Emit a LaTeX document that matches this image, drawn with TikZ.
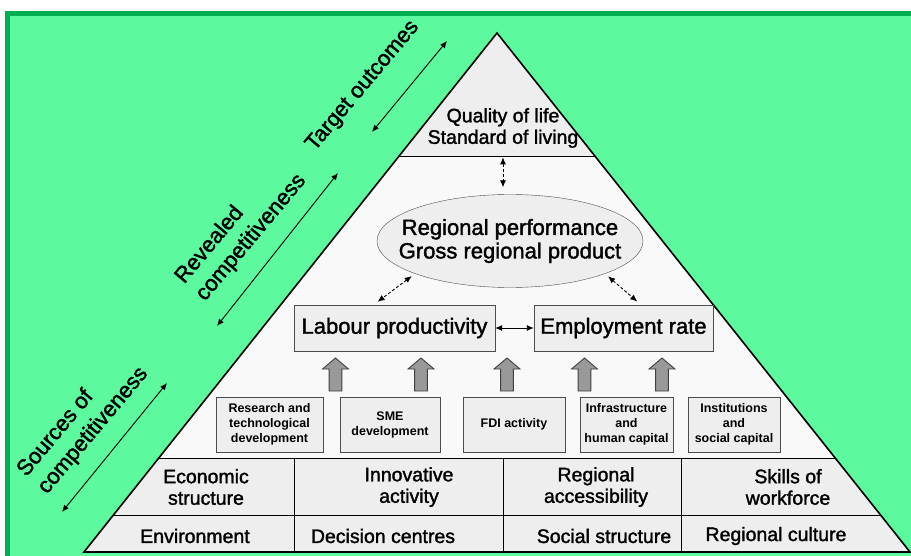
\documentclass[tikz,border=0pt]{standalone}
\usepackage{fontspec}
\setmainfont{Liberation Sans}
\newfontfamily\medfont{Liberation Sans}[FakeBold=1.6]
\usetikzlibrary{arrows.meta,shapes.geometric}
\definecolor{bggreen}{RGB}{92,249,158}
\definecolor{framegreen}{RGB}{0,176,80}
\definecolor{boxgray}{RGB}{238,238,238}
\definecolor{midgray}{RGB}{249,249,249}
\newcommand{\blockup}[1]{%
  \draw [blockarrow] (#1) ++(-6.4,0) -- ++(0,-22) -- ++(-6.6,0)
    -- ++(13,-11) -- ++(13,11) -- ++(-6.6,0) -- ++(0,22) -- cycle;}
\tikzset{
  bigtext/.style={font=\medfont\fontsize{22}{23.5}\selectfont},
  midtext/.style={font=\medfont\fontsize{19.5}{21.5}\selectfont, align=center},
  smalltext/.style={font=\fontsize{12.5}{15}\selectfont\bfseries},
  sidetext/.style={font=\medfont\fontsize{22}{27}\selectfont, rotate=50, align=left},
  sourcebox/.style={smalltext, draw=black!70, fill=boxgray, align=center,
    inner sep=0pt, minimum height=55pt},
  resultbox/.style={bigtext, draw=black!70, fill=boxgray, inner sep=0pt,
    minimum height=46pt},
  link/.style={<->, >={Latex[length=7pt,width=6pt]}, line width=0.9pt},
  dlink/.style={link, dash pattern=on 3pt off 2pt},
  blockarrow/.style={draw=black!75, fill=black!40, line width=0.9pt},
}
\begin{document}
\begin{tikzpicture}[x=1pt, y=-1pt]
    \useasboundingbox (0,0) rectangle (911,556);
    \clip (0,0) rectangle (911,556);
    \fill [white] (0,0) rectangle (911,556);
    \draw [framegreen, fill=bggreen, line width=5pt] (7.5,13.5) rectangle (925,570);
    % pyramid
    \coordinate (apex) at (497,33);
    \coordinate (bl) at (84,552);
    \coordinate (br) at (910,552);
    \fill [boxgray] (apex) -- (399,156) -- (595,156) -- cycle;
    \fill [midgray] (399,156) -- (595,156) -- (835.2,458) -- (158.8,458) -- cycle;
    \fill [boxgray] (158.8,458) -- (835.2,458) -- (br) -- (bl) -- cycle;
    \draw [line width=0.9pt] (399,156) -- (595,156);
    \draw [line width=0.9pt] (158.8,458) -- (835.2,458);
    \draw [line width=0.9pt] (113.4,515) -- (880.6,515);
    \draw [line width=0.9pt] (294,458) -- (294,552);
    \draw [line width=0.9pt] (503,458) -- (503,552);
    \draw [line width=0.9pt] (681,458) -- (681,552);
    \draw [line width=1.6pt] (apex) -- (br) -- (bl) -- cycle;
    % outcomes and performance
    \node [midtext] (ql) at (503,128) {Quality of life\\Standard of living};
    \node [bigtext, ellipse, draw=black!70, fill=boxgray, align=center,
      minimum width=266pt, minimum height=93pt, inner xsep=-18pt, inner ysep=0pt]
      (rp) at (510,241) {Regional performance\\Gross regional product};
    \node [resultbox, minimum width=201pt] (lp) at (394.5,328) {Labour productivity};
    \node [resultbox, minimum width=179pt] (er) at (623.5,328) {Employment rate};
    \draw [dlink, shorten <=6pt, shorten >=7pt] (ql.south) -- (ql.south |- rp.north);
    \draw [dlink, shorten <=4pt, shorten >=5pt] (rp.199) -- (lp.132);
    \draw [dlink, shorten <=4pt, shorten >=5pt] (rp.341) -- (er.53);
    \draw [link] (lp.east) -- (er.west);
    % sources
    \blockup{335.5,391}
    \blockup{421,391}
    \blockup{507,391}
    \blockup{584.5,391}
    \blockup{662,391}
    \node [sourcebox, minimum width=107pt] (rtd) at (269.5,424.5)
      {Research and\\technological\\development};
    \node [sourcebox, minimum width=100pt] (sme) at (390,424.5) {SME\\development};
    \node [sourcebox, minimum width=102pt] (fdi) at (514,424.5) {FDI activity};
    \node [sourcebox, minimum width=93pt] (ihc) at (626.5,424.5)
      {Infrastructure\\and\\human capital};
    \node [sourcebox, minimum width=92pt] (isc) at (734,424.5)
      {Institutions\\and\\social capital};
    \node [midtext] (es) at (206,487) {Economic\\structure};
    \node [midtext] (ia) at (409,487) {Innovative\\activity};
    \node [midtext] (ra) at (596,487) {Regional\\accessibility};
    \node [midtext] (sw) at (788,487) {Skills of\\workforce};
    \node [midtext] (env) at (195,536) {Environment};
    \node [midtext] (dc) at (383,536) {Decision centres};
    \node [midtext] (ss) at (604,536) {Social structure};
    \node [midtext] (rcu) at (776,536) {Regional culture};
    % side labels
    \node [sidetext] (tgt) at (363,86) {Target outcomes};
    \node [sidetext] (rev) at (241,229) {Revealed\\competitiveness};
    \node [sidetext] (src) at (83,422) {Sources of\\competitiveness};
    \coordinate (tgtlo) at (372,132);
    \coordinate (tgthi) at (447,41);
    \coordinate (revlo) at (217,326);
    \coordinate (revhi) at (338,173);
    \coordinate (srclo) at (62,512);
    \coordinate (srchi) at (167,383);
    \draw [link] (tgtlo) -- (tgthi);
    \draw [link] (revlo) -- (revhi);
    \draw [link] (srclo) -- (srchi);
\end{tikzpicture}
\end{document}
